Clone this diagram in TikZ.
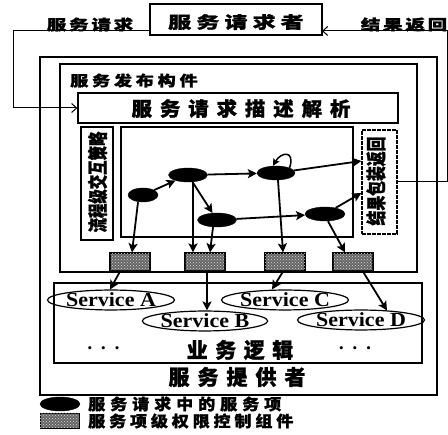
\documentclass[tikz,border=0pt]{standalone}
\usepackage{fontspec}
\setmainfont{Liberation Serif}
\newfontfamily\cjk{Noto Sans CJK SC}[BoldFeatures={FakeBold=1.2}]
\usetikzlibrary{arrows.meta,patterns,shapes.geometric}
\makeatletter
\newcommand\gapt[2]{\def\gap@amt{#2}\gap@first#1\relax}
\def\gap@first#1{#1\gap@rest}
\def\gap@rest#1{\ifx#1\relax\else\hspace{\gap@amt}#1\expandafter\gap@rest\fi}
\makeatother
\newcommand\fsz[1]{\fontsize{#1}{#1}\selectfont}
\newcommand\wtext[4]{\scalebox{#1}[1]{\fsz{#2}\gapt{#4}{#3}}}
\begin{document}
\begin{tikzpicture}[x=1pt,y=-1pt,
  box/.style={draw, line width=1.3pt, inner sep=0pt},
  arr/.style={line width=1.8pt, -{Stealth[length=9pt,width=9pt,inset=2pt]}},
  thinarr/.style={line width=1pt, -{Straight Barb[length=5pt,width=9pt]}},
  item/.style={ellipse, fill=black, draw=black, minimum width=#1, minimum height=14pt, inner sep=0pt},
  ctrl/.style={draw, line width=1.2pt, fill=black!60, postaction={pattern=crosshatch dots, pattern color=white!85!black}, minimum width=40pt, minimum height=18pt, inner sep=0pt},
  svc/.style={ellipse, draw, line width=1.2pt, minimum width=#1, minimum height=18pt, inner sep=0pt, font=\fsz{20}\bfseries},
  cjkt/.style={font=\cjk\bfseries, inner sep=0pt},
]
\useasboundingbox (0,0) rectangle (448,435);

% top
\node[box, minimum width=172pt, minimum height=31pt] (req) at (236,19.5) {};
\node[cjkt] at (236,22) {\wtext{1.4}{16.5}{3.6pt}{服务请求者}};
\node[cjkt] (lreq) at (90,24.5) {\wtext{1.35}{14.5}{2pt}{服务请求}};
\node[cjkt] (lres) at (404,24.5) {\wtext{1.35}{14.5}{2pt}{结果返回}};
\coordinate (reqout) at (150,31);
\coordinate (reqin) at (322,31);

% containers
\node[draw, line width=1.1pt, minimum width=397pt, minimum height=338pt, inner sep=0pt] (outer) at (238.5,226) {};
\node[draw, line width=1.4pt, minimum width=357pt, minimum height=208pt, inner sep=0pt] (inner) at (238.5,168) {};
\node[cjkt, anchor=west] (lpub) at (70,80.5) {\wtext{1.25}{14.5}{3pt}{服务发布构件}};
\node[box, minimum width=320pt, minimum height=30pt] (parse) at (238,108) {};
\node[cjkt] at (241,108.5) {\wtext{1.05}{19.5}{7.5pt}{服务请求描述解析}};
\node[box, minimum width=32pt, minimum height=113pt] (strat) at (97,183.5) {};
\node[cjkt, rotate=90] at (97.5,182) {\scalebox{0.72}[1]{\fsz{20}流程级交互策略}};
\node[box, minimum width=232pt, minimum height=110pt] (mid) at (237,182) {};
\node[draw, dashed, dash pattern=on 4pt off 1pt, line width=1.3pt, minimum width=35pt, minimum height=104pt, inner sep=0pt] (wrap) at (379.5,182) {};
\node[cjkt, rotate=90] at (376,181) {\scalebox{0.74}[1]{\fsz{20}结果包装返回}};

% service items
\node[item=30pt] (e1) at (143,195) {};
\node[item=39pt] (e2) at (188,175) {};
\node[item=38pt] (e3) at (276,173) {};
\node[item=39pt] (e4) at (217,220) {};
\node[item=40pt] (e5) at (325,214) {};

\draw[arr] (e1) -- (e2);
\draw[arr] (e2) -- (e3);
\draw[arr] (e2) -- (e4);
\draw[arr] (e4) -- (e5);
\draw[arr] (e3) -- ([yshift=21pt]wrap.west);
\draw[arr] (e5) -- ([yshift=-11pt]wrap.west);
\draw[line width=1.5pt, -{Stealth[length=7pt,width=7pt,inset=1.5pt]}] (e3.north east) .. controls +(6,-18) and +(8,-14) .. ([xshift=-3pt]e3.north);

% control components
\node[ctrl] (c1) at (130,262) {};
\node[ctrl] (c2) at (205,262) {};
\node[ctrl] (c3) at (285,262) {};
\node[ctrl] (c4) at (353,262) {};

\draw[arr] ([xshift=-5pt]e1.south) -- ([xshift=2pt]c1.north);
\draw[arr] ([xshift=5pt]e2.south) -- ([xshift=-12pt]c2.north);
\draw[arr] ([xshift=-4pt]e4.south) -- ([xshift=5pt]c2.north);
\draw[arr] ([xshift=2pt]e3.south) -- ([xshift=-2pt]c3.north);
\draw[arr] ([xshift=3pt]e5.south) -- ([xshift=-8pt]c4.north);

% business logic
\node[box, line width=1.2pt, minimum width=368pt, minimum height=80pt] (biz) at (238,323) {};
\node[svc=112pt] (sA) at (111,300) {\scalebox{1.1}[1]{Service A}};
\node[svc=115pt] (sB) at (205,321) {\scalebox{1.1}[1]{Service B}};
\node[svc=116pt] (sC) at (285,300) {\scalebox{1.1}[1]{Service C}};
\node[svc=117pt] (sD) at (361,320) {\scalebox{1.1}[1]{Service D}};
\node[cjkt] at (240,350) {\fsz{21}\gapt{业务逻辑}{7.5pt}};
\node[font=\fsz{13}, inner sep=0pt] at (103.5,350) {\textbullet\hspace{9pt}\textbullet\hspace{9pt}\textbullet};
\node[font=\fsz{13}, inner sep=0pt] at (355,350) {\textbullet\hspace{9pt}\textbullet\hspace{9pt}\textbullet};

\draw[arr] ([xshift=-10pt]c1.south) -- ([xshift=-1pt]sA.north);
\draw[arr] ([xshift=2pt]c2.south) -- ([xshift=2pt]sB.north);
\draw[arr] ([xshift=-2pt]c3.south) -- ([xshift=-13pt]sC.north);
\draw[arr] ([xshift=10pt]c4.south) -- ([xshift=26pt,yshift=-1pt]sD.north);

\node[cjkt] at (237,377) {\fsz{21}\gapt{服务提供者}{8pt}};

% request / result connectors
\draw[thinarr] (reqout) -| (13,108) -- (parse.west);
\draw[thinarr] (wrap.east) -- (447,182) -- (447,31) -- (reqin);

% legend
\node[item=40pt] (le) at (60,404) {};
\node[ctrl, minimum width=39pt, minimum height=15pt, line width=0.8pt] (lc) at (59.5,420.5) {};
\node[cjkt, anchor=west] at (88,404) {\wtext{1.1}{15.5}{4.5pt}{服务请求中的服务项}};
\node[cjkt, anchor=west] at (88,421) {\wtext{1.1}{15.5}{3.5pt}{服务项级权限控制组件}};
\end{tikzpicture}
\end{document}
